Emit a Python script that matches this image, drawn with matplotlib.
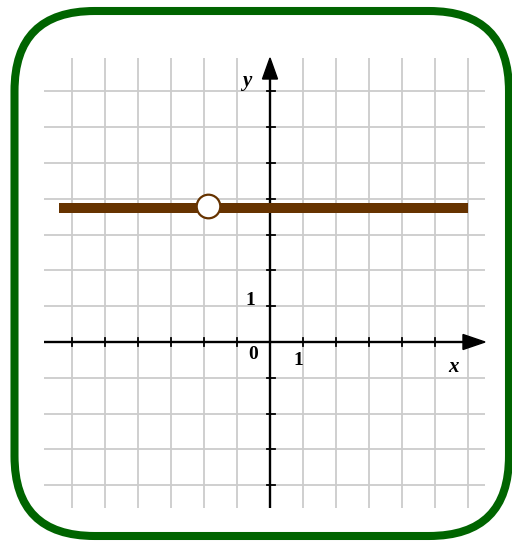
import matplotlib
matplotlib.use("Agg")
import matplotlib.pyplot as plt
from matplotlib.patches import FancyBboxPatch, Polygon
import numpy as np

# data
line_x = [-6.38, 6.0]
line_y = [3.75, 3.75]
hole_x = [-1.87]
hole_y = [3.8]
grid_x = list(range(-6, 7))
grid_y = list(range(-4, 8))
xticks_axis = [-6, -5, -4, -3, -2, -1, 1, 2, 3, 4, 5]
yticks_axis = [-4, -3, -2, -1, 1, 2, 3, 4, 5, 6, 7]

W, H = 512, 541
fig = plt.figure(figsize=(W / 100, H / 100), dpi=100)

# pixel layout of the plotting area
px_left, px_right, px_top, px_bot = 44, 485, 58, 508
ox, oy = 270, 342
sx, sy = 33.0, 35.8
xmin, xmax = (px_left - ox) / sx, (px_right - ox) / sx
ymin, ymax = (oy - px_bot) / sy, (oy - px_top) / sy

ax = fig.add_axes([px_left / W, (H - px_bot) / H, (px_right - px_left) / W, (px_bot - px_top) / H])
ax.set_xlim(xmin, xmax)
ax.set_ylim(ymin, ymax)
for s in ax.spines.values():
    s.set_visible(False)
ax.set_xticks(grid_x)
ax.set_yticks(grid_y)
ax.tick_params(length=0, labelbottom=False, labelleft=False)
ax.grid(True, color="#cccccc", lw=1.3)
ax.set_axisbelow(True)

# axes lines
ax.plot([xmin, xmax - 0.3], [0, 0], color="black", lw=1.7, zorder=3, solid_capstyle="butt")
ax.plot([0, 0], [ymin, ymax - 0.3], color="black", lw=1.7, zorder=3, solid_capstyle="butt")
# arrows
aw_x, al_x = 7.5 / sy, 22 / sx
ax.add_patch(Polygon([[xmax, 0], [xmax - al_x, aw_x], [xmax - al_x, -aw_x]], closed=True,
                     color="black", zorder=4, clip_on=False))
aw_y, al_y = 7.5 / sx, 21 / sy
ax.add_patch(Polygon([[0, ymax], [-aw_y, ymax - al_y], [aw_y, ymax - al_y]], closed=True,
                     color="black", zorder=4, clip_on=False))
# ticks
for t in xticks_axis:
    ax.plot([t, t], [-4 / sy, 4 / sy], color="black", lw=1.3, zorder=3)
for t in yticks_axis:
    ax.plot([-3 / sx, 5 / sx], [t, t], color="black", lw=1.3, zorder=3)

# function
ax.plot(line_x, line_y, color="#663300", lw=7.2, solid_capstyle="butt", zorder=5)
ax.plot(hole_x, hole_y, "o", ms=17, mfc="white", mec="#663300", mew=1.6, zorder=6)

# labels
font = dict(family="Liberation Serif", fontweight="bold", fontsize=14, color="black", zorder=7)
ax.text(-0.52, -0.35, "0", ha="center", va="center", **font)
ax.text(0.87, -0.53, "1", ha="center", va="center", **font)
ax.text(-0.6, 1.17, "1", ha="center", va="center", **font)
ax.text(-0.72, 7.3, "y", ha="center", va="center", style="italic", fontfamily="Liberation Serif",
        fontweight="bold", fontsize=15, zorder=7)
ax.text(5.55, -0.7, "x", ha="center", va="center", style="italic", fontfamily="Liberation Serif",
        fontweight="bold", fontsize=15, zorder=7)

# rounded green border in pixel coordinates
ov = fig.add_axes([0, 0, 1, 1], zorder=10)
ov.set_xlim(0, W)
ov.set_ylim(H, 0)
ov.axis("off")
ov.patch.set_alpha(0)
r = 80
x0, x1, y0, y1 = 14.5, 509, 11, 536
ov.add_patch(FancyBboxPatch((x0 + r, y0 + r), (x1 - x0) - 2 * r, (y1 - y0) - 2 * r,
                            boxstyle=f"round,pad={r}", fc="none", ec="#006400", lw=5.8))

fig.savefig("out.png", dpi=100)
